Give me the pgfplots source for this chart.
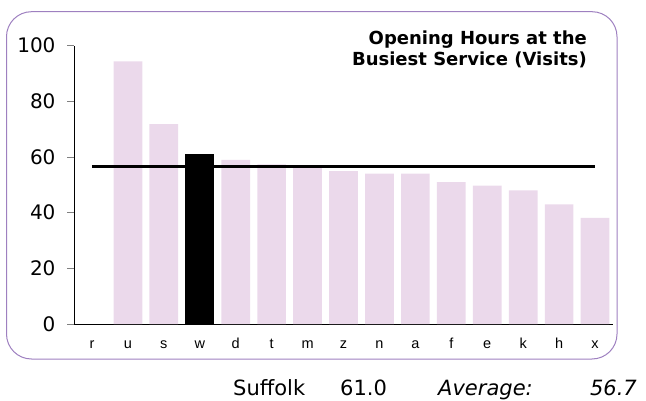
\documentclass[border=0pt]{standalone}
\usepackage{pgfplots}
\pgfplotsset{compat=1.18}
\usepackage{fontspec}
\setmainfont{DejaVu Sans}
\newfontfamily\arifont{Liberation Sans}
\definecolor{barpink}{RGB}{235,217,235}
\definecolor{framepurple}{RGB}{158,128,192}

\begin{document}
\begin{tikzpicture}
\path[use as bounding box] (0pt,0pt) rectangle (646pt,-401pt);
\draw[framepurple, line width=1pt, rounded corners=25pt]
  (6.5pt,-11.7pt) rectangle (617pt,-359pt);
\begin{axis}[
  at={(74pt,-324pt)}, anchor=south west,
  scale only axis, width=539pt, height=278.3pt,
  xmin=-0.5, xmax=14.5, ymin=0, ymax=100,
  axis x line*=bottom, axis y line*=left,
  axis line style={-, black, line width=0.8pt},
  xtick={0,...,14},
  xticklabels={r,u,s,w,d,t,m,z,n,a,f,e,k,h,x},
  x tick style={draw=none},
  ytick={0,20,40,60,80,100},
  y tick style={gray, line width=0.8pt},
  tick align=outside, major tick length=7pt,
  /pgf/number format/assume math mode=true,
  yticklabel style={font=\fontsize{20}{20}\selectfont, xshift=-8pt},
  xticklabel style={font=\arifont\fontsize{14.5}{14.5}\selectfont, anchor=base, yshift=-17.5pt},
  clip=false,
]
\addplot[ybar, bar width=28.7pt, bar shift=0pt, fill=barpink, draw=none] coordinates {
  (1,94.4) (2,71.8) (4,59.0) (5,57.4) (6,56.2) (7,54.9) (8,54.0)
  (9,54.0) (10,51.0) (11,49.7) (12,48.0) (13,43.0) (14,38.1)};
\addplot[ybar, bar width=28.7pt, bar shift=0pt, fill=black, draw=none] coordinates {
  (3,61.0)};
\addplot[black, line width=2.7pt, line cap=butt] coordinates {(0,56.7) (14,56.7)};
\end{axis}
\node[anchor=base east, font=\bfseries\fontsize{18}{18}\selectfont, inner sep=0pt]
  at (587pt,-45pt) {Opening Hours at the};
\node[anchor=base east, font=\bfseries\fontsize{18}{18}\selectfont, inner sep=0pt]
  at (587pt,-65.5pt) {Busiest Service (Visits)};
\node[anchor=base west, font=\fontsize{21}{21}\selectfont, inner sep=0pt]
  at (233pt,-395pt) {Suffolk};
\node[anchor=base west, font=\fontsize{21}{21}\selectfont, inner sep=0pt]
  at (340pt,-395pt) {61.0};
\node[anchor=base west, font=\itshape\fontsize{21}{21}\selectfont, inner sep=0pt]
  at (438pt,-395pt) {Average:};
\node[anchor=base east, font=\itshape\fontsize{21}{21}\selectfont, inner sep=0pt]
  at (637pt,-395pt) {56.7};
\end{tikzpicture}
\end{document}
